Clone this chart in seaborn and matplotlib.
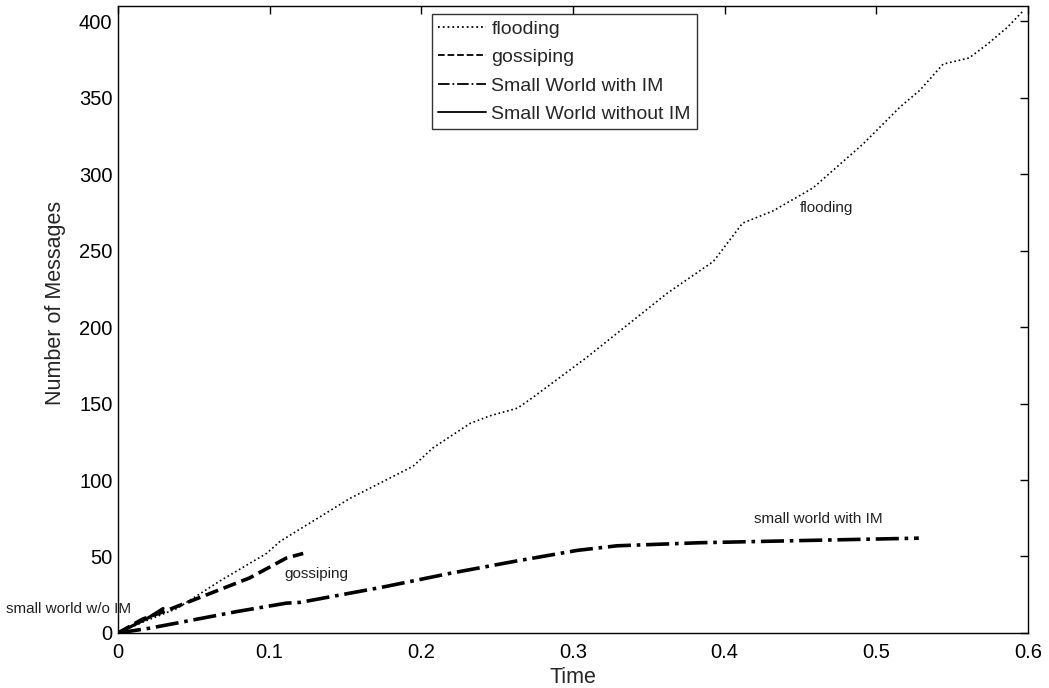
import matplotlib
matplotlib.use("Agg")
import matplotlib.pyplot as plt
import seaborn as sns
import pandas as pd

# Data
flood_x = [0, 0.0161, 0.0389, 0.0672, 0.0979, 0.107, 0.1529, 0.1945, 0.2076, 0.2321, 0.2452,
           0.2634, 0.2735, 0.3088, 0.3619, 0.3926, 0.4118, 0.4319, 0.4582, 0.4915, 0.5157,
           0.5288, 0.544, 0.5611, 0.5732, 0.5863, 0.597]
flood_y = [0, 7, 16, 34, 52, 60, 88, 109, 121, 137, 142, 147, 154, 180, 222, 243, 268,
           276, 291, 320, 344, 355, 372, 376, 385, 396, 407]

gossip_x = [0, 0.0161, 0.0303, 0.056, 0.0868, 0.111, 0.1221]
gossip_y = [0, 9, 14, 24, 36, 49, 52]

swim_x = [0, 0.0202, 0.0389, 0.0784, 0.111, 0.1201, 0.1746, 0.219, 0.2624, 0.3028, 0.329,
          0.3835, 0.4541, 0.528]
swim_y = [0, 3, 6.5, 14, 19.5, 20, 30, 39, 47, 54, 57, 59, 60.5, 62]

swno_x = [0, 0.0101, 0.0202, 0.0297]
swno_y = [0, 5, 10, 16]

series_names = ["flooding", "gossiping", "Small World with IM", "Small World without IM"]
x_ticks = [0, 0.1, 0.2, 0.3, 0.4, 0.5, 0.6]
y_ticks = [0, 50, 100, 150, 200, 250, 300, 350, 400]

sns.set_style("white")
plt.rcParams['font.family'] = ['Liberation Sans', 'DejaVu Sans']

fig = plt.figure(figsize=(10.49, 6.88), dpi=100)
ax = fig.add_axes([0.1125, 0.0800, 0.8675, 0.9113])

styles = [(":", 1.2), ("--", 2.6), ("-.", 2.6), ("-", 2.3)]
data = [(flood_x, flood_y), (gossip_x, gossip_y), (swim_x, swim_y), (swno_x, swno_y)]
for (xs, ys), name, (ls, lw) in zip(data, series_names, styles):
    df = pd.DataFrame({"x": xs, "y": ys})
    sns.lineplot(data=df, x="x", y="y", ax=ax, color="black", linestyle=ls,
                 linewidth=lw, label=name, sort=False, estimator=None)

ax.set_xlim(0, 0.6)
ax.set_ylim(0, 410)
ax.set_xticks(x_ticks)
ax.set_xticklabels([("%g" % v) for v in x_ticks])
ax.set_yticks(y_ticks)
ax.tick_params(direction="in", length=6, width=1, labelsize=14.5, top=True, right=True,
               colors="black")
ax.tick_params(axis="x", pad=7)
ax.tick_params(axis="y", pad=4)
for s in ax.spines.values():
    s.set_color("black")
    s.set_linewidth(1)
ax.set_xlabel("Time", fontsize=15.5)
ax.set_ylabel("Number of Messages", fontsize=15.5)
ax.xaxis.set_label_coords(0.5, -0.054)
ax.yaxis.set_label_coords(-0.057, 0.527)

leg = ax.legend(loc="upper left", bbox_to_anchor=(0.345, 0.987), fontsize=14,
                frameon=True, fancybox=False, edgecolor="black", handlelength=2.5,
                handletextpad=0.25, borderpad=0.3, labelspacing=0.56, borderaxespad=0)
leg.get_frame().set_linewidth(1)
for line in leg.get_lines():
    line.set_linewidth(1.3)

ann_kw = dict(fontsize=11, color="#222222", ha="center", va="center")
ax.text(0.467, 278, "flooding", **ann_kw)
ax.text(0.462, 74.5, "small world with IM", **ann_kw)
ax.text(0.1305, 38.6, "gossiping", **ann_kw)
ax.text(-0.0323, 15.7, "small world w/o IM", clip_on=False, **ann_kw)

fig.savefig("out.png", dpi=100)
